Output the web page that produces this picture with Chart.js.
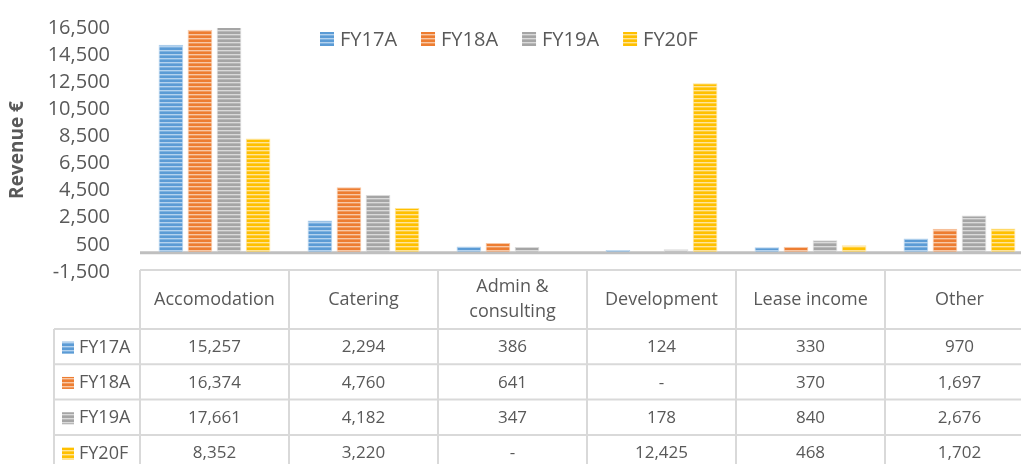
<!DOCTYPE html>
<html>
<head>
<meta charset="utf-8">
<script src="https://cdn.jsdelivr.net/npm/chart.js@4"></script>
<style>
  body { margin: 0; background: #fff; overflow: hidden; }
  #wrap { width: 1040px; height: 464px; }
</style>
</head>
<body>
<div id="wrap"><canvas id="revenueChart"></canvas></div>
<script>

// =========================
// DATA
// =========================

const categories = ['Accomodation', 'Catering', 'Admin & consulting', 'Development', 'Lease income', 'Other'];
const headerLines = [['Accomodation'], ['Catering'], ['Admin &', 'consulting'], ['Development'], ['Lease income'], ['Other']];

const seriesNames = ['FY17A', 'FY18A', 'FY19A', 'FY20F'];

const fy17a = [15257, 2294, 386, 124, 330, 970];
const fy18a = [16374, 4760, 641, null, 370, 1697];
const fy19a = [17661, 4182, 347, 178, 840, 2676];
const fy20f = [8352, 3220, null, 12425, 468, 1702];

const yMin = -1500;
const yMax = 16500;
const yStep = 2000;

// =========================
// STYLE
// =========================

const FONT = '"Open Sans", sans-serif';
const TEXT = '#595959';
const GRIDLINE = '#d9d9d9';

const palette = [
    { base: '#5B9BD5', mid: '#7DB1E0', light: '#B4D2EE' },
    { base: '#ED7D31', mid: '#F19A5E', light: '#F8C8A6' },
    { base: '#A5A5A5', mid: '#B8B8B8', light: '#DADADA' },
    { base: '#FFC000', mid: '#FFCE3A', light: '#FFE499' }
];

const canvas = document.getElementById('revenueChart');
const ctx = canvas.getContext('2d');

function stripes(c){
    const tile = document.createElement('canvas');
    tile.width = 4;
    tile.height = 4;
    const g = tile.getContext('2d');
    g.fillStyle = c.base;
    g.fillRect(0, 0, 4, 4);
    g.fillStyle = c.light;
    g.fillRect(0, 2, 4, 1);
    g.fillStyle = c.mid;
    g.fillRect(0, 3, 4, 1);
    return ctx.createPattern(tile, 'repeat');
}

const fills = palette.map(stripes);
const values = [fy17a, fy18a, fy19a, fy20f];

// =========================
// PLUGINS
// =========================

// zero line (category axis crossing at 0)
const zeroLine = {
    id: 'zeroLine',
    beforeDatasetsDraw(chart){
        const y = chart.scales.y.getPixelForValue(0);
        const area = chart.chartArea;
        const c = chart.ctx;
        c.save();
        c.strokeStyle = '#BFBFBF';
        c.lineWidth = 3;
        c.beginPath();
        c.moveTo(area.left, y + 1);
        c.lineTo(area.right, y + 1);
        c.stroke();
        c.restore();
    }
};

// legend drawn inside the plot area
const topLegend = {
    id: 'topLegend',
    afterDraw(chart){
        const c = chart.ctx;
        c.save();
        c.font = '20px ' + FONT;
        c.textBaseline = 'middle';
        let x = 320;
        const y = 39;
        chart.data.datasets.forEach((ds, i) => {
            c.fillStyle = fills[i];
            c.fillRect(x, y - 7, 14, 14);
            c.fillStyle = TEXT;
            c.fillText(ds.label, x + 20, y + 1);
            x += 20 + c.measureText(ds.label).width + 24;
        });
        c.restore();
    }
};

// data table under the chart
const dataTable = {
    id: 'dataTable',
    afterDraw(chart){
        const c = chart.ctx;
        const xs = chart.scales.x;
        const area = chart.chartArea;
        const half = (xs.getPixelForValue(1) - xs.getPixelForValue(0)) / 2;
        const left = area.left;
        const right = xs.getPixelForValue(categories.length - 1) + half;
        const keyLeft = 54;
        const top = 270;
        const headBottom = 329;
        const rowH = 35.3;
        const bottom = headBottom + rowH * seriesNames.length;

        c.save();
        c.strokeStyle = GRIDLINE;
        c.lineWidth = 2;
        c.beginPath();
        // horizontal lines
        c.moveTo(left, top); c.lineTo(right, top);
        for (let r = 0; r <= seriesNames.length; r++) {
            const y = headBottom + r * rowH;
            c.moveTo(keyLeft, y); c.lineTo(right, y);
        }
        // vertical lines
        c.moveTo(keyLeft, headBottom); c.lineTo(keyLeft, bottom);
        for (let i = 0; i <= categories.length; i++) {
            const x = xs.getPixelForValue(i) - half;
            c.moveTo(x, top); c.lineTo(x, bottom);
        }
        c.stroke();

        c.fillStyle = TEXT;
        c.font = '18px ' + FONT;
        c.textAlign = 'center';
        c.textBaseline = 'middle';

        // header
        headerLines.forEach((lines, i) => {
            const cx = xs.getPixelForValue(i);
            const mid = (top + headBottom) / 2;
            const lh = 25;
            lines.forEach((t, k) => {
                c.fillText(t, cx, mid + (k - (lines.length - 1) / 2) * lh);
            });
        });

        // rows
        values.forEach((arr, r) => {
            const cy = headBottom + rowH * r + rowH / 2 + 1;
            c.fillStyle = fills[r];
            c.fillRect(62, cy - 6, 12, 12);
            c.fillStyle = TEXT;
            c.font = '18px ' + FONT;
            c.textAlign = 'left';
            c.fillText(seriesNames[r], 79, cy);
            c.textAlign = 'center';
            c.font = '17px ' + FONT;
            arr.forEach((v, i) => {
                const t = v === null ? '-' : v.toLocaleString('en-US');
                c.fillText(t, xs.getPixelForValue(i), cy);
            });
        });
        c.restore();
    }
};

// =========================
// CHART
// =========================

new Chart(canvas, {

    type: 'bar',

    data: {
        labels: categories,
        datasets: seriesNames.map((name, i) => ({
            label: name,
            data: values[i],
            backgroundColor: fills[i],
            borderColor: palette[i].light,
            borderWidth: 1,
            barPercentage: 0.85,
            categoryPercentage: 0.78
        }))
    },

    options: {
        responsive: true,
        maintainAspectRatio: false,
        animation: false,
        layout: {
            padding: { left: 0, right: 6, top: 28, bottom: 192 }
        },
        plugins: {
            legend: { display: false },
            tooltip: { enabled: false }
        },
        scales: {
            x: { display: false },
            y: {
                min: yMin,
                max: yMax,
                grid: { display: false, drawTicks: false },
                border: { display: false },
                ticks: {
                    stepSize: yStep,
                    padding: 30,
                    color: TEXT,
                    font: { family: FONT, size: 20 },
                    callback: v => v.toLocaleString('en-US')
                },
                title: {
                    display: true,
                    text: 'Revenue €',
                    color: TEXT,
                    font: { family: FONT, size: 19, weight: 'bold' },
                    padding: { top: 6, bottom: 0 }
                },
                afterFit(scale){
                    scale.width = 140;
                    scale.paddingTop = 0;
                    scale.paddingBottom = 0;
                }
            }
        }
    },

    plugins: [zeroLine, topLegend, dataTable]

});

</script>
</body>
</html>
